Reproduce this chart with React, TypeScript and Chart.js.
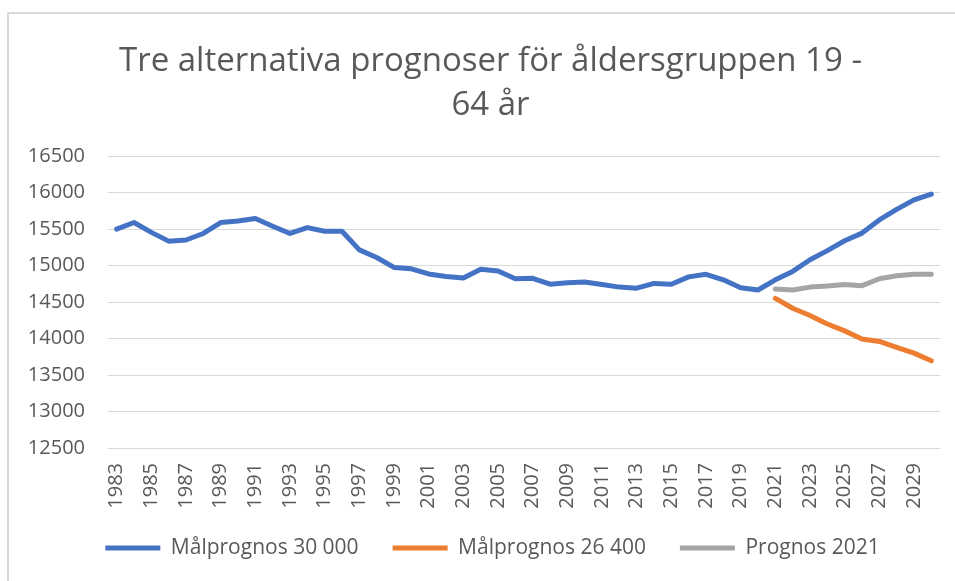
import React, { useEffect, useRef } from "react";
import { Chart, registerables } from "chart.js";

Chart.register(...registerables);

const years: string[] = [
  "1983","1984","1985","1986","1987","1988","1989","1990","1991","1992",
  "1993","1994","1995","1996","1997","1998","1999","2000","2001","2002",
  "2003","2004","2005","2006","2007","2008","2009","2010","2011","2012",
  "2013","2014","2015","2016","2017","2018","2019","2020","2021","2022",
  "2023","2024","2025","2026","2027","2028","2029","2030",
];

const malprognos30000: number[] = [
  15500, 15590, 15455, 15335, 15350, 15440, 15590, 15610, 15645, 15540,
  15440, 15520, 15470, 15470, 15215, 15110, 14975, 14955, 14885, 14850,
  14830, 14950, 14925, 14820, 14825, 14745, 14765, 14775, 14740, 14705,
  14690, 14755, 14745, 14845, 14880, 14805, 14695, 14665, 14805, 14920,
  15080, 15205, 15340, 15445, 15625, 15770, 15900, 15980,
];

const forecastYears: string[] = ["2021","2022","2023","2024","2025","2026","2027","2028","2029","2030"];
const malprognos26400: number[] = [14550, 14415, 14315, 14200, 14105, 13995, 13960, 13880, 13800, 13695];
const prognos2021: number[] = [14680, 14665, 14705, 14720, 14740, 14725, 14820, 14860, 14880, 14880];

const seriesNames = ["Målprognos 30 000", "Målprognos 26 400", "Prognos 2021"];
const titleLines = ["Tre alternativa prognoser för åldersgruppen 19 -", "64 år"];

const alignToYears = (vals: number[]) =>
  years.map((y) => {
    const k = forecastYears.indexOf(y);
    return k >= 0 ? vals[k] : null;
  });

const FONT = "'Open Sans', 'Liberation Sans', sans-serif";
const TEXT = "#595959";

const boxShift = {
  id: "boxShift",
  afterLayout(chart: any) {
    const lg = chart.legend;
    if (lg) {
      lg.left += 15;
      lg.right += 15;
      lg.top -= 8.5;
      lg.bottom -= 8.5;
    }
    const tb = chart.titleBlock;
    if (tb) {
      tb.left += 13;
      tb.right += 13;
    }
  },
};

export default function App() {
  const ref = useRef<HTMLCanvasElement | null>(null);

  useEffect(() => {
    if (!ref.current) return;
    const mk = (label: string, data: (number | null)[], color: string) => ({
      label,
      data,
      borderColor: color,
      backgroundColor: color,
      borderWidth: 5,
      borderCapStyle: "round" as const,
      borderJoinStyle: "round" as const,
      pointRadius: 0,
      pointHoverRadius: 0,
      pointStyle: "line" as const,
      tension: 0,
      spanGaps: false,
    });
    const chart = new Chart(ref.current, {
      type: "line",
      data: {
        labels: years,
        datasets: [
          mk(seriesNames[0], malprognos30000, "#4472C4"),
          mk(seriesNames[1], alignToYears(malprognos26400), "#ED7D31"),
          mk(seriesNames[2], alignToYears(prognos2021), "#A5A5A5"),
        ],
      },
      plugins: [boxShift],
      options: {
        animation: false,
        responsive: false,
        maintainAspectRatio: false,
        layout: { padding: { left: 0, right: 0, top: 0, bottom: 4 } },
        plugins: {
          title: {
            display: true,
            text: titleLines,
            color: TEXT,
            font: { family: FONT, size: 33, weight: "normal", lineHeight: 1.32 },
            padding: { top: 40, bottom: 29 },
          },
          legend: {
            display: true,
            position: "bottom",
            labels: {
              color: TEXT,
              font: { family: FONT, size: 21 },
              usePointStyle: true,
              pointStyleWidth: 55,
              padding: 34,
            },
          },
          tooltip: { enabled: false },
        },
        scales: {
          x: {
            type: "category",
            offset: true,
            grid: { display: false, drawTicks: false },
            border: { display: false },
            ticks: {
              autoSkip: false,
              maxRotation: 90,
              minRotation: 90,
              padding: 15,
              color: TEXT,
              font: { family: FONT, size: 20 },
              callback: (_v: any, i: number) => (i % 2 === 0 ? years[i] : ""),
            },
            afterFit: (s: any) => {
              s.height = 64;
              s.paddingLeft = 0;
              s.paddingRight = 15;
            },
          },
          y: {
            min: 12500,
            max: 16500,
            grid: { color: "#D9D9D9", lineWidth: 1, drawTicks: false },
            border: { display: false },
            ticks: {
              stepSize: 500,
              padding: 23,
              color: TEXT,
              font: { family: FONT, size: 20 },
              callback: (v: any) => String(v),
            },
            afterFit: (s: any) => {
              s.width = 108;
            },
          },
        },
      },
    });
    return () => chart.destroy();
  }, []);

  return (
    <div style={{ position: "fixed", left: 0, top: 0, width: 955, height: 581, overflow: "hidden", background: "#fff" }}>
      <div
        style={{
          position: "absolute",
          left: 7,
          top: 12,
          width: 946,
          height: 567,
          borderLeft: "2px solid #D9D9D9",
          borderTop: "2px solid #D9D9D9",
        }}
      />
      <canvas ref={ref} width={955} height={581} style={{ position: "absolute", left: 0, top: 0, width: 955, height: 581 }} />
    </div>
  );
}
